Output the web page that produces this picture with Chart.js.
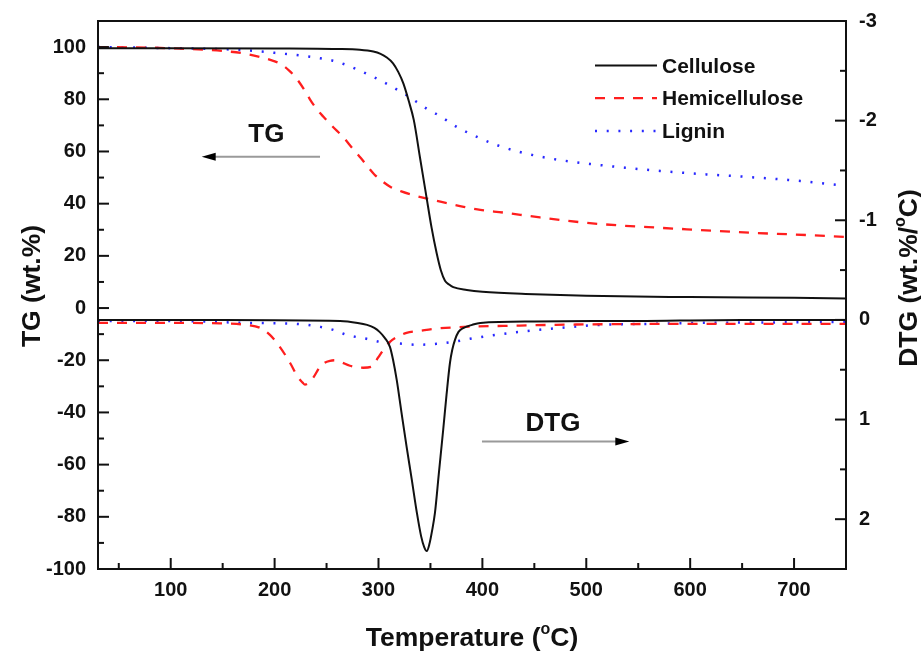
<!DOCTYPE html>
<html>
<head>
<meta charset="utf-8">
<script src="https://cdn.jsdelivr.net/npm/chart.js@4.4.1/dist/chart.umd.min.js"></script>
<style>
  html, body { margin: 0; padding: 0; background: #fff; }
  #wrap { width: 921px; height: 651px; }
</style>
</head>
<body>
<div id="wrap"><canvas id="tgChart" width="921" height="651"></canvas></div>
<script>
// TG curves, temperature (°C) / mass (wt.%)
const celluloseTgT = [30, 100, 200, 260, 282, 295, 302, 308, 314, 319, 324, 329, 334, 340, 346, 351, 356, 360, 364, 368, 372, 385, 400, 450, 500, 600, 700, 750];
const celluloseTg = [99.6, 99.6, 99.5, 99.3, 99.0, 98.3, 97.4, 96.0, 93.8, 90.5, 86.0, 79.5, 72.0, 57.5, 43.0, 31.0, 21.0, 14.5, 10.5, 9.0, 8.0, 6.9, 6.2, 5.3, 4.7, 4.2, 3.9, 3.7];

const hemiTgT = [30, 80, 110, 150, 170, 186, 198, 206, 214, 221, 228, 234, 240, 247, 256, 266, 275, 283, 290, 296, 304, 312, 322, 334, 350, 366, 382, 398, 420, 450, 480, 513, 560, 610, 660, 700, 750];
const hemiTg = [100, 99.8, 99.4, 98.5, 97.6, 96.2, 94.8, 93.5, 91.0, 88.0, 84.0, 80.0, 76.5, 73.3, 69.5, 65.5, 61.2, 57.5, 54.0, 51.2, 48.5, 46.3, 44.7, 43.2, 41.6, 40.2, 38.8, 37.6, 36.6, 35.0, 33.5, 32.2, 31.0, 29.9, 28.8, 28.2, 27.2];

const ligninTgT = [30, 100, 167, 205, 234, 256, 268, 279, 290, 301, 314, 327, 346, 359, 375, 398, 415, 436, 455, 475, 513, 561, 609, 657, 706, 750];
const ligninTg = [100, 99.6, 98.9, 97.6, 96.3, 94.8, 93.3, 91.5, 89.5, 87.4, 84.6, 81.6, 76.5, 73.6, 69.5, 65.0, 62.3, 59.8, 58.1, 56.7, 54.8, 52.9, 51.4, 50.2, 48.7, 46.8];

// DTG curves (wt.%/°C), right axis
const celluloseDtgT = [30, 150, 263, 280, 289, 296, 301, 306, 311, 314, 317.5, 322, 327, 332, 337, 341, 344, 346.5, 349, 351.5, 354.3, 358, 362.3, 365.5, 368.8, 371, 373.6, 377, 382, 390, 398, 450, 550, 650, 750];
const celluloseDtg = [0.0, 0.0, 0.01, 0.03, 0.05, 0.08, 0.12, 0.18, 0.27, 0.4, 0.6, 0.92, 1.27, 1.6, 1.94, 2.17, 2.28, 2.32, 2.25, 2.12, 1.94, 1.55, 1.1, 0.75, 0.43, 0.3, 0.2, 0.12, 0.08, 0.05, 0.03, 0.015, 0.01, 0.0, 0.0];

const hemiDtgT = [30, 100, 147, 173, 186, 195.5, 205, 214.8, 222.8, 227, 229.2, 233, 237.2, 243.7, 248, 253.3, 258, 263, 272.5, 285.3, 293.4, 297, 301.4, 306, 311, 318, 327, 340, 353, 382, 420, 500, 600, 700, 750];
const hemiDtg = [0.03, 0.03, 0.035, 0.05, 0.08, 0.15, 0.27, 0.43, 0.58, 0.63, 0.65, 0.63, 0.58, 0.47, 0.43, 0.41, 0.405, 0.42, 0.46, 0.48, 0.47, 0.42, 0.35, 0.28, 0.22, 0.17, 0.13, 0.11, 0.09, 0.07, 0.06, 0.045, 0.04, 0.04, 0.04];

const ligninDtgT = [30, 100, 173, 221, 244, 256.5, 269.4, 288.6, 301.4, 323.9, 336.7, 356, 372, 388, 410, 436, 475, 513, 560, 609, 680, 750];
const ligninDtg = [0.01, 0.01, 0.03, 0.04, 0.07, 0.10, 0.15, 0.19, 0.22, 0.24, 0.25, 0.24, 0.22, 0.19, 0.155, 0.12, 0.08, 0.05, 0.04, 0.03, 0.025, 0.02];

// ticks
const xTicks = [100, 200, 300, 400, 500, 600, 700];
const xMinor = [50, 150, 250, 350, 450, 550, 650];
const tgTicks = [-100, -80, -60, -40, -20, 0, 20, 40, 60, 80, 100];
const tgMinor = [-90, -70, -50, -30, -10, 10, 30, 50, 70, 90];
const dtgTicks = [-3, -2, -1, 0, 1, 2];
const dtgMinor = [-2.5, -1.5, -0.5, 0.5, 1.5];

const seriesNames = ['Cellulose', 'Hemicellulose', 'Lignin'];

const FONT = '"Liberation Sans", Arial, sans-serif';
const BLACK = '#111111';
const RED = 'rgb(255,30,30)';
const BLUE = 'rgb(40,40,255)';

function pts(xs, ys) {
  return xs.map((x, i) => ({ x: x, y: ys[i] }));
}

const styles = [
  { borderColor: BLACK, borderWidth: 2, borderDash: [] },
  { borderColor: RED, borderWidth: 2.3, borderDash: [10, 9] },
  { borderColor: BLUE, borderWidth: 2.5, borderDash: [2, 9.7] }
];

function ds(label, data, axis, st) {
  return Object.assign({
    label: label,
    data: data,
    yAxisID: axis,
    pointRadius: 0,
    fill: false,
    cubicInterpolationMode: 'monotone'
  }, st);
}

function drawRich(ctx, parts, cx, cy, angle, size) {
  ctx.save();
  ctx.translate(cx, cy);
  ctx.rotate(angle);
  const big = 'bold ' + size + 'px ' + FONT;
  const small = 'bold ' + Math.round(size * 0.6) + 'px ' + FONT;
  let total = 0;
  parts.forEach(p => { ctx.font = p.sup ? small : big; total += ctx.measureText(p.t).width; });
  let x = -total / 2;
  ctx.textAlign = 'left';
  ctx.textBaseline = 'alphabetic';
  ctx.fillStyle = BLACK;
  parts.forEach(p => {
    ctx.font = p.sup ? small : big;
    ctx.fillText(p.t, x, p.sup ? -size * 0.45 : 0);
    x += ctx.measureText(p.t).width;
  });
  ctx.restore();
}

function arrow(ctx, x1, y, x2) {
  const dir = Math.sign(x2 - x1);
  ctx.save();
  ctx.strokeStyle = '#9a9a9a';
  ctx.lineWidth = 2;
  ctx.beginPath();
  ctx.moveTo(x1, y);
  ctx.lineTo(x2 - dir * 10, y);
  ctx.stroke();
  ctx.fillStyle = '#000';
  ctx.beginPath();
  ctx.moveTo(x2, y);
  ctx.lineTo(x2 - dir * 14, y - 4);
  ctx.lineTo(x2 - dir * 14, y + 4);
  ctx.closePath();
  ctx.fill();
  ctx.restore();
}

const decor = {
  id: 'decor',
  afterDraw(chart) {
    const ctx = chart.ctx;
    const a = chart.chartArea;
    const sx = chart.scales.x, sy = chart.scales.y, sy2 = chart.scales.y2;
    ctx.save();
    ctx.strokeStyle = BLACK;
    ctx.lineWidth = 2;
    // inward ticks
    const tick = (x1, y1, x2, y2) => { ctx.beginPath(); ctx.moveTo(x1, y1); ctx.lineTo(x2, y2); ctx.stroke(); };
    xTicks.forEach(v => { const p = sx.getPixelForValue(v); tick(p, a.bottom, p, a.bottom - 11); });
    xMinor.forEach(v => { const p = sx.getPixelForValue(v); tick(p, a.bottom, p, a.bottom - 6); });
    tgTicks.forEach(v => { const p = sy.getPixelForValue(v); tick(a.left, p, a.left + 11, p); });
    tgMinor.forEach(v => { const p = sy.getPixelForValue(v); tick(a.left, p, a.left + 6, p); });
    dtgTicks.forEach(v => { const p = sy2.getPixelForValue(v); tick(a.right, p, a.right - 11, p); });
    dtgMinor.forEach(v => { const p = sy2.getPixelForValue(v); tick(a.right, p, a.right - 6, p); });
    // frame
    ctx.strokeRect(a.left, a.top, a.right - a.left, a.bottom - a.top);
    ctx.restore();

    // legend
    ctx.save();
    const lx = a.right - 251, ly = a.top + 44.5;
    for (let i = 0; i < 3; i++) {
      const d = chart.data.datasets[i];
      const y = ly + i * 32.7;
      ctx.strokeStyle = d.borderColor;
      ctx.lineWidth = d.borderWidth;
      ctx.setLineDash(d.borderDash);
      ctx.beginPath();
      ctx.moveTo(lx, y);
      ctx.lineTo(lx + 62, y);
      ctx.stroke();
      ctx.setLineDash([]);
      ctx.fillStyle = BLACK;
      ctx.font = 'bold 21px ' + FONT;
      ctx.textAlign = 'left';
      ctx.textBaseline = 'middle';
      ctx.fillText(seriesNames[i], lx + 67, y + 1.5);
    }
    ctx.restore();

    // TG / DTG notes with arrows
    ctx.save();
    ctx.fillStyle = BLACK;
    ctx.font = 'bold 26px ' + FONT;
    ctx.textAlign = 'center';
    ctx.textBaseline = 'middle';
    ctx.fillText('TG', sx.getPixelForValue(192), sy.getPixelForValue(66.5));
    ctx.fillText('DTG', sx.getPixelForValue(468), sy2.getPixelForValue(1.04));
    ctx.restore();
    arrow(ctx, sx.getPixelForValue(243.7), sy.getPixelForValue(58), sx.getPixelForValue(129.8));
    arrow(ctx, sx.getPixelForValue(399.6), sy2.getPixelForValue(1.22), sx.getPixelForValue(541.4));

    // axis titles
    drawRich(ctx, [{ t: 'Temperature (' }, { t: 'o', sup: true }, { t: 'C)' }], (a.left + a.right) / 2, 646, 0, 26.5);
    drawRich(ctx, [{ t: 'TG (wt.%)' }], 40, 286, -Math.PI / 2, 26.5);
    drawRich(ctx, [{ t: 'DTG (wt.%/' }, { t: 'o', sup: true }, { t: 'C)' }], 917, 278, -Math.PI / 2, 26.5);
  }
};

const tickFont = { family: FONT, size: 20, weight: 'bold' };

new Chart(document.getElementById('tgChart').getContext('2d'), {
  type: 'line',
  data: {
    datasets: [
      ds('Cellulose', pts(celluloseTgT, celluloseTg), 'y', styles[0]),
      ds('Hemicellulose', pts(hemiTgT, hemiTg), 'y', styles[1]),
      ds('Lignin', pts(ligninTgT, ligninTg), 'y', styles[2]),
      ds('Cellulose DTG', pts(celluloseDtgT, celluloseDtg), 'y2', styles[0]),
      ds('Hemicellulose DTG', pts(hemiDtgT, hemiDtg), 'y2', styles[1]),
      ds('Lignin DTG', pts(ligninDtgT, ligninDtg), 'y2', styles[2])
    ]
  },
  options: {
    responsive: false,
    animation: false,
    devicePixelRatio: 1,
    layout: { autoPadding: false, padding: { top: 21, left: 0, right: 0, bottom: 0 } },
    plugins: { legend: { display: false }, tooltip: { enabled: false } },
    scales: {
      x: {
        type: 'linear',
        min: 30,
        max: 750,
        grid: { display: false, drawTicks: false },
        border: { display: false },
        afterBuildTicks: s => { s.ticks = xTicks.map(v => ({ value: v })); },
        afterFit: s => { s.height = 82; s.paddingLeft = 0; s.paddingRight = 0; },
        ticks: { font: tickFont, color: BLACK, padding: 9, maxRotation: 0 }
      },
      y: {
        position: 'left',
        min: -100,
        max: 110,
        grid: { display: false, drawTicks: false },
        border: { display: false },
        afterBuildTicks: s => { s.ticks = tgTicks.map(v => ({ value: v })); },
        afterFit: s => { s.width = 98; s.paddingTop = 0; s.paddingBottom = 0; },
        ticks: { font: tickFont, color: BLACK, padding: 12 }
      },
      y2: {
        position: 'right',
        reverse: true,
        min: -3,
        max: 2.5,
        grid: { display: false, drawTicks: false },
        border: { display: false },
        afterBuildTicks: s => { s.ticks = dtgTicks.map(v => ({ value: v })); },
        afterFit: s => { s.width = 75; s.paddingTop = 0; s.paddingBottom = 0; },
        ticks: { font: tickFont, color: BLACK, padding: 13 }
      }
    }
  },
  plugins: [decor]
});
</script>
</body>
</html>
